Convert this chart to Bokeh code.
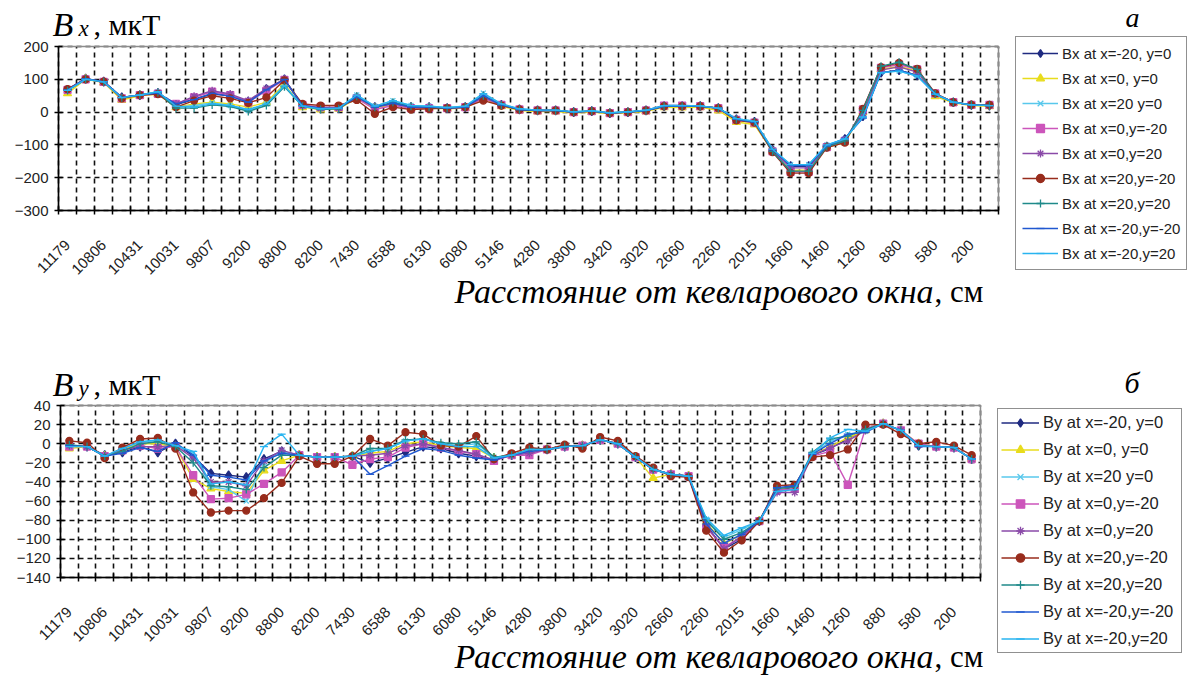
from bokeh.plotting import figure
from bokeh.models import (FixedTicker, Legend, LegendItem, Label, Range1d, LinearAxis, Grid)
from bokeh.embed import file_html
from bokeh.resources import INLINE

# ---------------- data ----------------
distance_labels = ["11179", "10806", "10431", "10031", "9807", "9200", "8800", "8200",
                   "7430", "6588", "6130", "6080", "5146", "4280", "3800", "3420",
                   "3020", "2660", "2260", "2015", "1660", "1460", "1260", "880", "580", "200"]
n_points = 52

names_bx = ["Bx at x=-20, y=0", "Bx at x=0, y=0", "Bx at x=20 y=0", "Bx at x=0,y=-20",
            "Bx at x=0,y=20", "Bx at x=20,y=-20", "Bx at x=20,y=20", "Bx at x=-20,y=-20",
            "Bx at x=-20,y=20"]
names_by = ["By at x=-20, y=0", "By at x=0, y=0", "By at x=20 y=0", "By at x=0,y=-20",
            "By at x=0,y=20", "By at x=20,y=-20", "By at x=20,y=20", "By at x=-20,y=-20",
            "By at x=-20,y=20"]

bx_m20_0 = [68, 102, 93, 45, 52, 58, 22, 40, 55, 50, 32, 70, 100, 20, 12, 12, 45, 15, 25, 15, 15, 12, 15, 48, 22, 8,
            5, 5, 0, 3, -3, 0, 5, 18, 18, 18, 12, -22, -30, -115, -165, -165, -105, -82, -12, 120, 128, 112, 55, 30, 22, 20]
bx_0_0 = [57, 100, 90, 37, 50, 55, 15, 25, 30, 25, 15, 30, 85, 15, 8, 10, 42, 12, 22, 12, 12, 10, 12, 42, 18, 5,
          2, 2, -3, 0, -5, -2, 2, 15, 14, 15, 5, -30, -38, -120, -178, -176, -108, -92, 0, 130, 140, 125, 48, 28, 20, 18]
bx_20_0 = [66, 100, 92, 44, 52, 62, 15, 20, 28, 20, 5, 25, 80, 18, 10, 12, 52, 18, 35, 20, 18, 14, 18, 58, 25, 10,
           6, 6, 1, 4, -2, 1, 6, 20, 20, 19, 12, -20, -28, -113, -160, -160, -100, -82, -15, 122, 125, 110, 55, 30, 22, 20]
bx_0_m20 = [68, 100, 92, 42, 52, 56, 25, 45, 62, 52, 30, 65, 98, 22, 15, 15, 42, 8, 20, 12, 12, 12, 15, 42, 22, 8,
            5, 5, 0, 3, -3, 0, 5, 20, 20, 18, 12, -24, -32, -120, -182, -182, -107, -88, 8, 135, 145, 130, 57, 30, 22, 22]
bx_0_20 = [70, 102, 93, 44, 52, 57, 25, 48, 65, 55, 35, 72, 100, 20, 12, 12, 45, 15, 25, 15, 15, 12, 15, 46, 22, 8,
           5, 5, 0, 3, -3, 0, 5, 18, 18, 18, 12, -22, -30, -117, -170, -170, -104, -85, -5, 128, 138, 122, 55, 30, 22, 20]
bx_20_m20 = [70, 100, 93, 42, 52, 55, 15, 35, 50, 42, 28, 45, 97, 25, 20, 20, 37, -5, 15, 8, 10, 12, 15, 35, 20, 8,
             5, 5, 0, 3, -3, 0, 5, 18, 18, 18, 12, -25, -32, -122, -186, -186, -108, -93, 10, 137, 150, 132, 57, 30, 22, 22]
bx_20_20 = [66, 100, 92, 44, 52, 60, 12, 12, 22, 17, 2, 20, 77, 18, 8, 10, 48, 15, 30, 18, 15, 12, 16, 50, 22, 8,
            5, 5, 0, 3, -3, 0, 5, 18, 18, 18, 12, -22, -30, -120, -180, -180, -105, -88, 5, 140, 152, 130, 55, 30, 22, 20]
bx_m20_m20 = [68, 102, 93, 45, 52, 58, 25, 38, 58, 48, 30, 68, 100, 20, 12, 12, 47, 15, 27, 15, 16, 12, 15, 50, 22, 8,
              5, 5, 0, 3, -3, 0, 5, 18, 18, 18, 12, -22, -30, -115, -163, -163, -103, -80, -18, 120, 128, 112, 55, 30, 22, 20]
bx_m20_20 = [66, 100, 92, 44, 52, 62, 18, 15, 25, 20, 8, 25, 80, 18, 10, 12, 52, 18, 35, 20, 18, 14, 18, 56, 25, 10,
             6, 6, 1, 4, -2, 1, 6, 20, 20, 19, 12, -20, -28, -113, -160, -160, -100, -82, -15, 120, 125, 110, 55, 30, 22, 20]

by_m20_0 = [-2, -3, -12, -9, -3, -9, 0, -13, -31, -33, -35, -16, -8, -12, -14, -14, -13, -20, -15, -9, -3, -5, -10, -13, -17, -12,
            -8, -6, -3, -2, 4, 0, -14, -27, -32, -34, -85, -110, -100, -81, -48, -46, -12, -5, 5, 15, 21, 14, -2, -3, -4, -16]
by_0_0 = [-5, -3, -13, -6, 0, 0, -3, -37, -47, -50, -52, -28, -18, -12, -14, -14, -13, -10, -8, 0, 2, -2, -4, -5, -15, -12,
          -6, -6, -3, -2, 4, 0, -14, -36, -32, -34, -82, -105, -95, -81, -47, -45, -12, -3, 6, 14, 21, 14, 0, -3, -4, -16]
by_20_0 = [-2, -3, -13, -5, 2, 3, -2, -10, -45, -48, -60, -20, -8, -12, -14, -14, -13, -8, -5, 3, 5, 0, -2, 0, -14, -12,
           -6, -6, -3, -2, 4, 0, -14, -27, -32, -34, -79, -98, -90, -81, -50, -47, -10, 2, 10, 13, 21, 14, -1, -3, -4, -16]
by_0_m20 = [-3, -3, -13, -7, -2, -5, -3, -33, -58, -57, -53, -42, -30, -12, -14, -14, -22, -16, -14, -4, 0, -4, -8, -11, -18, -12,
            -12, -6, -3, -2, 4, 0, -14, -27, -32, -34, -88, -108, -98, -81, -49, -47, -13, -8, -43, 16, 21, 14, 0, -3, -4, -16]
by_0_20 = [-2, -3, -13, -6, -3, -3, -2, -15, -40, -40, -44, -18, -7, -12, -14, -14, -13, -12, -10, -2, 0, -4, -7, -11, -17, -12,
           -10, -6, -3, -2, 4, 0, -14, -27, -32, -34, -86, -110, -97, -81, -51, -51, -12, -4, 3, 14, 21, 14, -1, -3, -4, -16]
by_20_m20 = [3, 1, -15, -4, 5, 6, -5, -51, -72, -70, -70, -57, -41, -13, -21, -21, -13, 5, -2, 12, 10, -2, -3, 8, -16, -10,
             -4, -6, -1, -5, 7, 3, -13, -25, -34, -35, -91, -114, -101, -81, -44, -43, -14, -12, -6, 20, 20, 10, 0, 2, -2, -12]
by_20_20 = [-1, -3, -13, -8, 0, 2, -3, -20, -44, -45, -48, -25, -12, -12, -14, -14, -13, -5, -5, 4, 5, 1, 0, 2, -14, -12,
            -6, -6, -3, -2, 4, 0, -14, -27, -32, -34, -80, -100, -93, -81, -47, -45, -9, 5, 8, 15, 21, 14, -2, -3, -4, -16]
by_m20_m20 = [-2, -3, -13, -10, -4, -8, 1, -12, -33, -35, -38, -18, -10, -12, -14, -14, -13, -32, -23, -13, -5, -7, -12, -15, -17, -12,
              -8, -6, -3, -2, 4, 0, -14, -27, -32, -34, -84, -104, -95, -81, -46, -44, -11, 0, 10, 12, 21, 14, -3, -3, -4, -16]
by_m20_20 = [-3, -3, -13, -5, 2, 4, -2, -8, -42, -40, -43, -3, 10, -12, -14, -14, -13, -8, -5, 3, 5, 0, -3, -3, -15, -12,
             -6, -6, -3, -2, 4, 0, -14, -27, -32, -34, -78, -96, -88, -81, -50, -48, -10, 6, 15, 13, 21, 14, -2, -3, -4, -16]

bx_series = [bx_m20_0, bx_0_0, bx_20_0, bx_0_m20, bx_0_20, bx_20_m20, bx_20_20, bx_m20_m20, bx_m20_20]
by_series = [by_m20_0, by_0_0, by_20_0, by_0_m20, by_0_20, by_20_m20, by_20_20, by_m20_m20, by_m20_20]

# ---------------- styles / layout ----------------
W, H = 1188, 675
colors = ["#1f2a80", "#e8dc1c", "#58c8ec", "#cc55bb", "#8a4aa8", "#982c1c", "#1f8a8a", "#2058d0", "#28b4f0"]
markers = ["diamond", "triangle", "x", "square", "asterisk", "circle", "cross", "dash", "dash"]
msizes = [9, 8, 7, 7, 8, 7, 8, 8, 8]
AX_FONT = "Liberation Sans"
SERIF = "Liberation Serif"

xs = list(range(n_points))
x_lo, x_hi = -0.5, n_points - 0.5
bounds = [i - 0.5 for i in range(n_points + 1)]
label_ticks = list(range(0, n_points, 2))
overrides = {t: lab for t, lab in zip(label_ticks, distance_labels)}

# plot-area boxes in page pixels: (left, right, top, bottom)
box_top = (58, 998, 46, 210)
box_bot = (60, 980, 405, 577)


def ranges_for(box, ymin, ymax):
    L, R, T, B = box
    sx = (R - L) / (x_hi - x_lo)
    sy = (B - T) / (ymax - ymin)
    xr = Range1d(x_lo - L / sx, x_hi + (W - R) / sx)
    yr = Range1d(ymin - (H - B) / sy, ymax + T / sy)
    return xr, yr


xr_top, yr_top = ranges_for(box_top, -300, 200)
xr_bot, yr_bot = ranges_for(box_bot, -140, 40)

p = figure(width=W, height=H, output_backend="svg", toolbar_location=None,
           x_axis_type=None, y_axis_type=None, x_range=xr_top, y_range=yr_top,
           min_border=0, min_border_left=0, min_border_right=0, min_border_top=0, min_border_bottom=0,
           background_fill_color="white", border_fill_color="white")
p.extra_x_ranges = {"bot": xr_bot}
p.extra_y_ranges = {"bot": yr_bot}
p.outline_line_color = None
p.xgrid.visible = False
p.ygrid.visible = False


def make_grid(dim, ticks, cross, xn, yn):
    kw = dict(dimension=dim, ticker=FixedTicker(ticks=ticks), x_range_name=xn, y_range_name=yn,
              grid_line_color="#111111", grid_line_dash="5 4", grid_line_width=1.6)
    try:
        g = Grid(cross_bounds=cross, **kw)
    except AttributeError:
        g = Grid(**kw)
    p.add_layout(g)


def panel(series, names, ymin, ymax, ystep, xn, yn, leg):
    yt = list(range(ymin, ymax + 1, ystep))
    make_grid(0, bounds, (ymin, ymax), xn, yn)
    make_grid(1, yt, (x_lo, x_hi), xn, yn)
    # plot-area frame (grey)
    p.quad(left=[x_lo], right=[x_hi], bottom=[ymin], top=[ymax], fill_color=None,
           line_color="#8c8c8c", line_width=1.5, x_range_name=xn, y_range_name=yn)

    items = []
    for vals, name, c, m, s in zip(series, names, colors, markers, msizes):
        r1 = p.line(xs, vals, line_color=c, line_width=1.4, x_range_name=xn, y_range_name=yn)
        r2 = p.scatter(xs, vals, marker=m, size=s, line_color=c, fill_color=c, line_width=1.3,
                       x_range_name=xn, y_range_name=yn)
        items.append(LegendItem(label=name, renderers=[r1, r2]))

    yax = LinearAxis(x_range_name=xn, y_range_name=yn, fixed_location=x_lo, bounds=(ymin, ymax),
                     ticker=FixedTicker(ticks=yt, minor_ticks=[]),
                     major_tick_in=4, major_tick_out=4, major_tick_line_width=1.5,
                     major_label_standoff=6, major_label_text_font=AX_FONT,
                     major_label_text_font_size="15px", major_label_text_color="#222222",
                     axis_line_color="black", axis_line_width=1.5)
    p.add_layout(yax, "left")
    xax = LinearAxis(x_range_name=xn, y_range_name=yn, fixed_location=ymin, bounds=(x_lo, x_hi),
                     ticker=FixedTicker(ticks=label_ticks, minor_ticks=bounds),
                     major_label_overrides=overrides,
                     major_tick_in=0, major_tick_out=0,
                     minor_tick_in=4, minor_tick_out=4, minor_tick_line_color="black",
                     minor_tick_line_width=1.5,
                     major_label_orientation=0.785398, major_label_standoff=28,
                     major_label_text_font=AX_FONT, major_label_text_font_size="15px",
                     major_label_text_color="#222222",
                     axis_line_color="black", axis_line_width=1.5)
    p.add_layout(xax, "below")

    loc, pad, gw, lh, sp, lw, fs = leg
    legend = Legend(items=items, location=loc, padding=pad, margin=0, spacing=sp,
                    glyph_width=gw, glyph_height=lh, label_height=lh, label_width=lw,
                    label_standoff=4, label_text_font=AX_FONT, label_text_font_size=fs,
                    label_text_color="#222222", border_line_color="#222222", border_line_width=1.8,
                    background_fill_color="white", background_fill_alpha=1.0)
    p.add_layout(legend)


# labels render ~9px lower than the alphabetic y given, so positions are corrected by SHIFT
SHIFT = 9


def txt(x, y, text, size, italic=False, align="left"):
    p.add_layout(Label(x=x, y=H - (y - SHIFT), x_units="screen", y_units="screen", text=text,
                       text_font=SERIF, text_font_style="italic" if italic else "normal",
                       text_font_size=size, text_align=align, text_baseline="alphabetic",
                       text_color="black"))


panel(bx_series, names_bx, -300, 200, 100, "default", "default",
      ((1015, H - 270), 6, 36, 20, 5, 117, "15px"))
panel(by_series, names_by, -140, 40, 20, "bot", "bot",
      ((997, H - 653), 3, 38, 21, 6, 135, "16.5px"))

# panel (а) texts
txt(52, 33, "B", "34px", italic=True)
txt(78, 37, "x", "23px", italic=True)
txt(93, 33, ", мкТ", "30px")
txt(1125, 26, "а", "28px", italic=True)
txt(933, 300, "Расстояние от кевларового окна", "34px", italic=True, align="right")
txt(934, 300, ", см", "31px")

# panel (б) texts
txt(52, 393, "B", "34px", italic=True)
txt(78, 397, "y", "23px", italic=True)
txt(93, 393, ", мкТ", "30px")
txt(1124, 391, "б", "30px", italic=True)
txt(933, 665, "Расстояние от кевларового окна", "34px", italic=True, align="right")
txt(934, 665, ", см", "31px")

open("out.html", "w").write(file_html(p, INLINE))
